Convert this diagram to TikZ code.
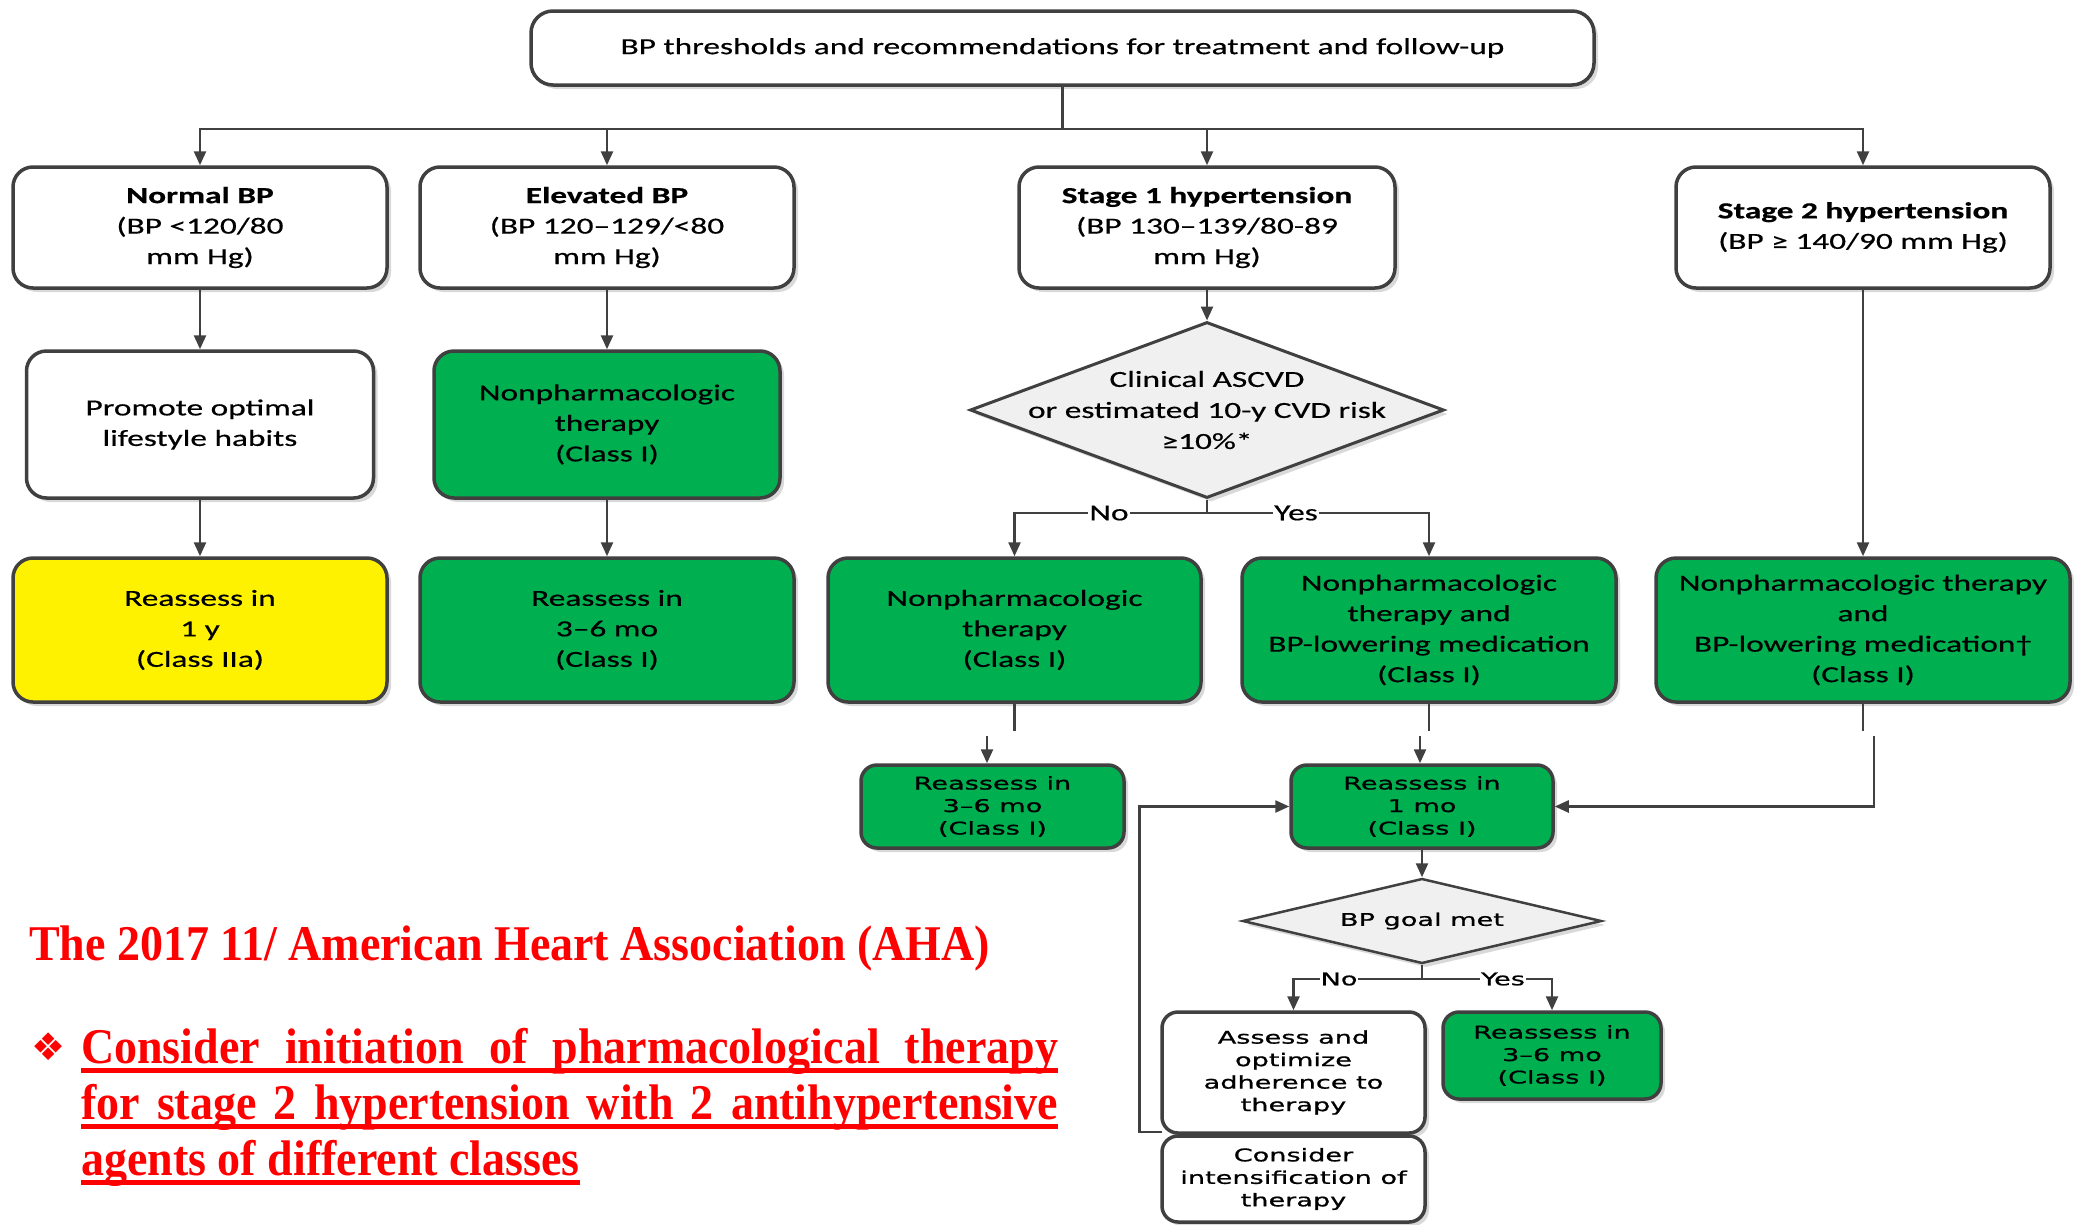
\documentclass[tikz,border=0pt]{standalone}
\usepackage{fontspec}
\setmainfont{Carlito}
\newfontfamily\boxfont[FakeStretch=1.45, FakeBold=0.5]{Carlito}
\newfontfamily\smallfont[FakeStretch=1.55, FakeBold=0.9]{DejaVu Sans}
\newfontfamily\redfont[FakeStretch=0.92]{Liberation Serif}
\newfontfamily\symfont{DejaVu Sans}
\usetikzlibrary{shapes.geometric, arrows.meta, shadows, calc}
\definecolor{boxgreen}{HTML}{00B050}
\definecolor{edgegray}{HTML}{404040}
\definecolor{diafill}{HTML}{F0F0F0}
\begin{document}
\begin{tikzpicture}[x=1pt, y=-1pt,
  shad/.style={drop shadow={shadow xshift=4pt, shadow yshift=-4pt, opacity=0.15, fill=black}},
  box/.style={shad, draw=edgegray, line width=3.5pt, rounded corners=20pt, align=center,
    inner sep=0pt, font=\boxfont\fontsize{23}{30.5}\selectfont},
  sbox/.style={box, rounded corners=16pt, font=\smallfont\fontsize{17.5}{22.5}\selectfont},
  wbox/.style={fill=white},
  gbox/.style={fill=boxgreen},
  ybox/.style={fill=yellow},
  dia/.style={shad, draw=edgegray, line width=3pt, shape=diamond, fill=diafill, inner sep=0pt},
  arr/.style={draw=edgegray, line width=2.5pt, -{Triangle[length=14pt,width=12pt]}},
  ln/.style={draw=edgegray, line width=2.5pt},
  lab/.style={fill=white, inner sep=1pt, font=\boxfont\fontsize{23}{26}\selectfont},
  slab/.style={fill=white, inner sep=1pt, font=\smallfont\fontsize{17.5}{20}\selectfont},
  redtxt/.style={text=red, inner sep=0pt, font=\redfont\bfseries\fontsize{50}{57}\selectfont}
]
\useasboundingbox (0,0) rectangle (2078,1224);
\fill[white] (0,0) rectangle (2078,1224);

% top
\node[box, wbox, minimum width=1063pt, minimum height=74pt, rounded corners=22pt] (top) at (1062.5,48)
  {BP thresholds and recommendations for treatment and follow-up};

% row 1
\node[box, wbox, minimum width=374pt, minimum height=121pt] (normal) at (200,227.5)
  {\textbf{Normal BP}\\(BP <120/80\\mm Hg)};
\node[box, wbox, minimum width=374pt, minimum height=121pt] (elev) at (607,227.5)
  {\textbf{Elevated BP}\\(BP 120–129/<80\\mm Hg)};
\node[box, wbox, minimum width=376pt, minimum height=121pt] (st1) at (1207,227.5)
  {\textbf{Stage 1 hypertension}\\(BP 130–139/80-89\\mm Hg)};
\node[box, wbox, minimum width=374pt, minimum height=121pt] (st2) at (1863,227.5)
  {\textbf{Stage 2 hypertension}\\(BP ≥ 140/90 mm Hg)};

% row 2
\node[box, wbox, minimum width=347pt, minimum height=147pt] (promote) at (200,424.5)
  {Promote optimal\\lifestyle habits};
\node[box, gbox, minimum width=346pt, minimum height=147pt] (np1) at (607,424.5)
  {Nonpharmacologic\\therapy\\(Class I)};
\node[dia, minimum width=474pt, minimum height=176pt,
  label={[font=\boxfont\fontsize{23}{31}\selectfont, align=center]center:Clinical ASCVD\\or estimated 10-y CVD risk\\≥10\%*}] (risk) at (1207,410) {};

% row 3
\node[box, ybox, minimum width=374pt, minimum height=144pt] (re1y) at (200,630)
  {Reassess in\\1 y\\(Class IIa)};
\node[box, gbox, minimum width=374pt, minimum height=144pt] (re36a) at (607,630)
  {Reassess in\\3–6 mo\\(Class I)};
\node[box, gbox, minimum width=373pt, minimum height=144pt] (npno) at (1014.5,630)
  {Nonpharmacologic\\therapy\\(Class I)};
\node[box, gbox, minimum width=374pt, minimum height=144pt] (npyes) at (1429,630)
  {Nonpharmacologic\\therapy and\\BP-lowering medication\\(Class I)};
\node[box, gbox, minimum width=414pt, minimum height=144pt] (nps2) at (1863,630)
  {Nonpharmacologic therapy\\and\\BP-lowering medication†\\(Class I)};

% row 4
\node[sbox, gbox, minimum width=263pt, minimum height=83pt] (re36b) at (992.5,806.5)
  {Reassess in\\3–6 mo\\(Class I)};
\node[sbox, gbox, minimum width=262pt, minimum height=83pt] (re1mo) at (1422,806.5)
  {Reassess in\\1 mo\\(Class I)};

\node[dia, line width=2.5pt, minimum width=359pt, minimum height=85pt,
  label={[font=\smallfont\fontsize{17.5}{20}\selectfont]center:BP goal met}] (goal) at (1422,921) {};

\node[sbox, wbox, minimum width=263pt, minimum height=121pt] (assess) at (1293.5,1072.5)
  {Assess and\\optimize\\adherence to\\therapy};
\node[sbox, wbox, minimum width=263pt, minimum height=86pt] (consider) at (1293.5,1179)
  {Consider\\intensification of\\therapy};
\node[sbox, gbox, minimum width=218pt, minimum height=87pt] (re36c) at (1552,1055.5)
  {Reassess in\\3–6 mo\\(Class I)};

% connectors from top
\coordinate (hub) at (1062.5,129);
\draw[ln] (top.south) -- (hub);
\draw[arr] (hub) -| (normal.north);
\draw[arr] (hub) -| (elev.north);
\draw[arr] (hub) -| (st1.north);
\draw[arr] (hub) -| (st2.north);

\draw[arr] (normal.south) -- (promote.north);
\draw[arr] (promote.south) -- (re1y.north);
\draw[arr] (elev.south) -- (np1.north);
\draw[arr] (np1.south) -- (re36a.north);
\draw[arr] (st1.south) -- (risk.north);
\draw[arr] (st2.south) -- (nps2.north);

% No / Yes branch from risk diamond
\coordinate (rb) at (1207,513);
\draw[ln] (risk.south) -- (rb);
\draw[arr] (rb) -| (npno.north);
\draw[arr] (rb) -| (npyes.north);
\node[lab] (no1) at (1109,513) {No};
\node[lab] (yes1) at (1296,513) {Yes};

% row 3 -> row 4 (broken connectors)
\coordinate (c1) at (1014.5,731);
\coordinate (c1b) at (987,736);
\draw[ln] (npno.south) -- (c1);
\draw[arr] (c1b) -- (c1b |- re36b.north);

\coordinate (c2) at (1429,731);
\coordinate (c2b) at (1420,736);
\draw[ln] (npyes.south) -- (c2);
\draw[arr] (c2b) -- (c2b |- re1mo.north);

\coordinate (c3) at (1863,731);
\coordinate (c3b) at (1874,736);
\draw[ln] (nps2.south) -- (c3);
\draw[arr] (c3b) |- (re1mo.east);

\draw[arr] (re1mo.south) -- (goal.north);

% No / Yes branch from goal diamond
\coordinate (gb) at (1422,979);
\draw[ln] (goal.south) -- (gb);
\draw[arr] (gb) -| (assess.north);
\draw[arr] (gb) -| (re36c.north);
\node[slab] (no2) at (1339,979) {No};
\node[slab] (yes2) at (1503,979) {Yes};

% loop back
\draw[arr] ($(assess.south west)+(2,-3)$) -- ++(-23,0) |- (re1mo.west);

% red text
\node[redtxt, anchor=base west] (title) at (29,960) {The 2017 11/ American Heart Association (AHA)};
\node[text=red, inner sep=0pt, font=\symfont\fontsize{38}{38}\selectfont] (bullet) at (49,1047) {❖};
\node[redtxt, anchor=base west] (l1) at (81,1063) {\makebox[977pt][s]{Consider initiation of pharmacological therapy}};
\node[redtxt, anchor=base west] (l2) at (81,1119) {\makebox[977pt][s]{for stage 2 hypertension with 2 antihypertensive}};
\node[redtxt, anchor=base west] (l3) at (81,1175) {agents of different classes};
\foreach \n in {l1,l2,l3}
  \draw[red, line width=5pt] ($(\n.base west)+(0,7)$) -- ($(\n.base east)+(0,7)$);
\end{tikzpicture}
\end{document}
